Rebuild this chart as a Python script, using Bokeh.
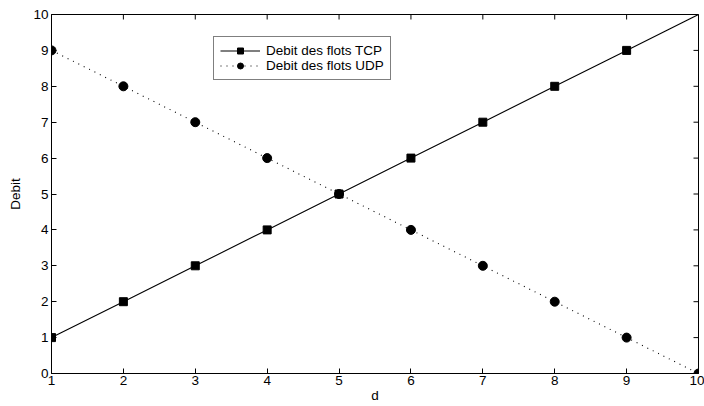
import math
from bokeh.plotting import figure
from bokeh.models import Legend, LegendItem, Range1d, FixedTicker
from bokeh.embed import file_html
from bokeh.resources import INLINE

d = [1, 2, 3, 4, 5, 6, 7, 8, 9, 10]
tcp = [1, 2, 3, 4, 5, 6, 7, 8, 9, 10]
udp = [9, 8, 7, 6, 5, 4, 3, 2, 1, 0]
tcp_marker_count = 9
x_ticks = [1, 2, 3, 4, 5, 6, 7, 8, 9, 10]
y_ticks = [0, 1, 2, 3, 4, 5, 6, 7, 8, 9, 10]
x_min, x_max = 1, 10
y_min, y_max = 0, 10

FONT = "Liberation Sans"
FS = "13.5px"

p = figure(width=704, height=406, output_backend="svg", toolbar_location=None,
           x_range=Range1d(x_min, x_max), y_range=Range1d(y_min, y_max),
           min_border_left=51, min_border_right=6, min_border_top=14, min_border_bottom=33)
p.background_fill_color = "white"
p.border_fill_color = "white"
p.grid.visible = False
p.outline_line_color = "black"
p.outline_line_width = 1
p.outline_line_alpha = 1

for ax in p.xaxis:
    ax.ticker = FixedTicker(ticks=x_ticks)
    ax.axis_label = "d"
    ax.major_label_standoff = 2
    ax.axis_label_standoff = 0
for ax in p.yaxis:
    ax.ticker = FixedTicker(ticks=y_ticks)
    ax.axis_label = "Debit"
    ax.major_label_standoff = 3
    ax.axis_label_standoff = 7

for ax in list(p.xaxis) + list(p.yaxis):
    ax.major_tick_in = 5
    ax.major_tick_out = 0
    ax.minor_tick_line_color = None
    ax.axis_line_color = "black"
    ax.major_tick_line_color = "black"
    ax.major_label_text_font = FONT
    ax.major_label_text_font_size = FS
    ax.major_label_text_color = "black"
    ax.axis_label_text_font = FONT
    ax.axis_label_text_font_size = FS
    ax.axis_label_text_font_style = "normal"
    ax.axis_label_text_color = "black"

# inward ticks on the top and right edges of the box
p.scatter(x_ticks, [y_max] * len(x_ticks), marker="dash", angle=math.pi / 2,
          size=10, line_color="black", line_width=1)
p.scatter([x_max] * len(y_ticks), y_ticks, marker="dash",
          size=10, line_color="black", line_width=1)

tcp_line = p.line(d, tcp, line_color="black", line_width=1.1)
tcp_pts = p.scatter(d[:tcp_marker_count], tcp[:tcp_marker_count], marker="square", size=8,
                    fill_color="black", line_color="black")
udp_line = p.line(d, udp, line_color="black", line_width=1.1, line_dash="1 5")
udp_pts = p.scatter(d, udp, marker="circle", size=9, fill_color="black", line_color="black")

legend = Legend(items=[
    LegendItem(label="Debit des flots TCP", renderers=[tcp_line, tcp_pts]),
    LegendItem(label="Debit des flots UDP", renderers=[udp_line, udp_pts]),
], location=(162, 293))
legend.label_text_font = FONT
legend.label_text_font_size = FS
legend.label_text_color = "black"
legend.glyph_width = 40
legend.glyph_height = 15
legend.label_height = 15
legend.spacing = 0
legend.padding = 6
legend.margin = 0
legend.label_standoff = 6
legend.border_line_color = "black"
legend.border_line_width = 1
legend.background_fill_alpha = 1
p.add_layout(legend, "center")

open("out.html", "w").write(file_html(p, INLINE))
